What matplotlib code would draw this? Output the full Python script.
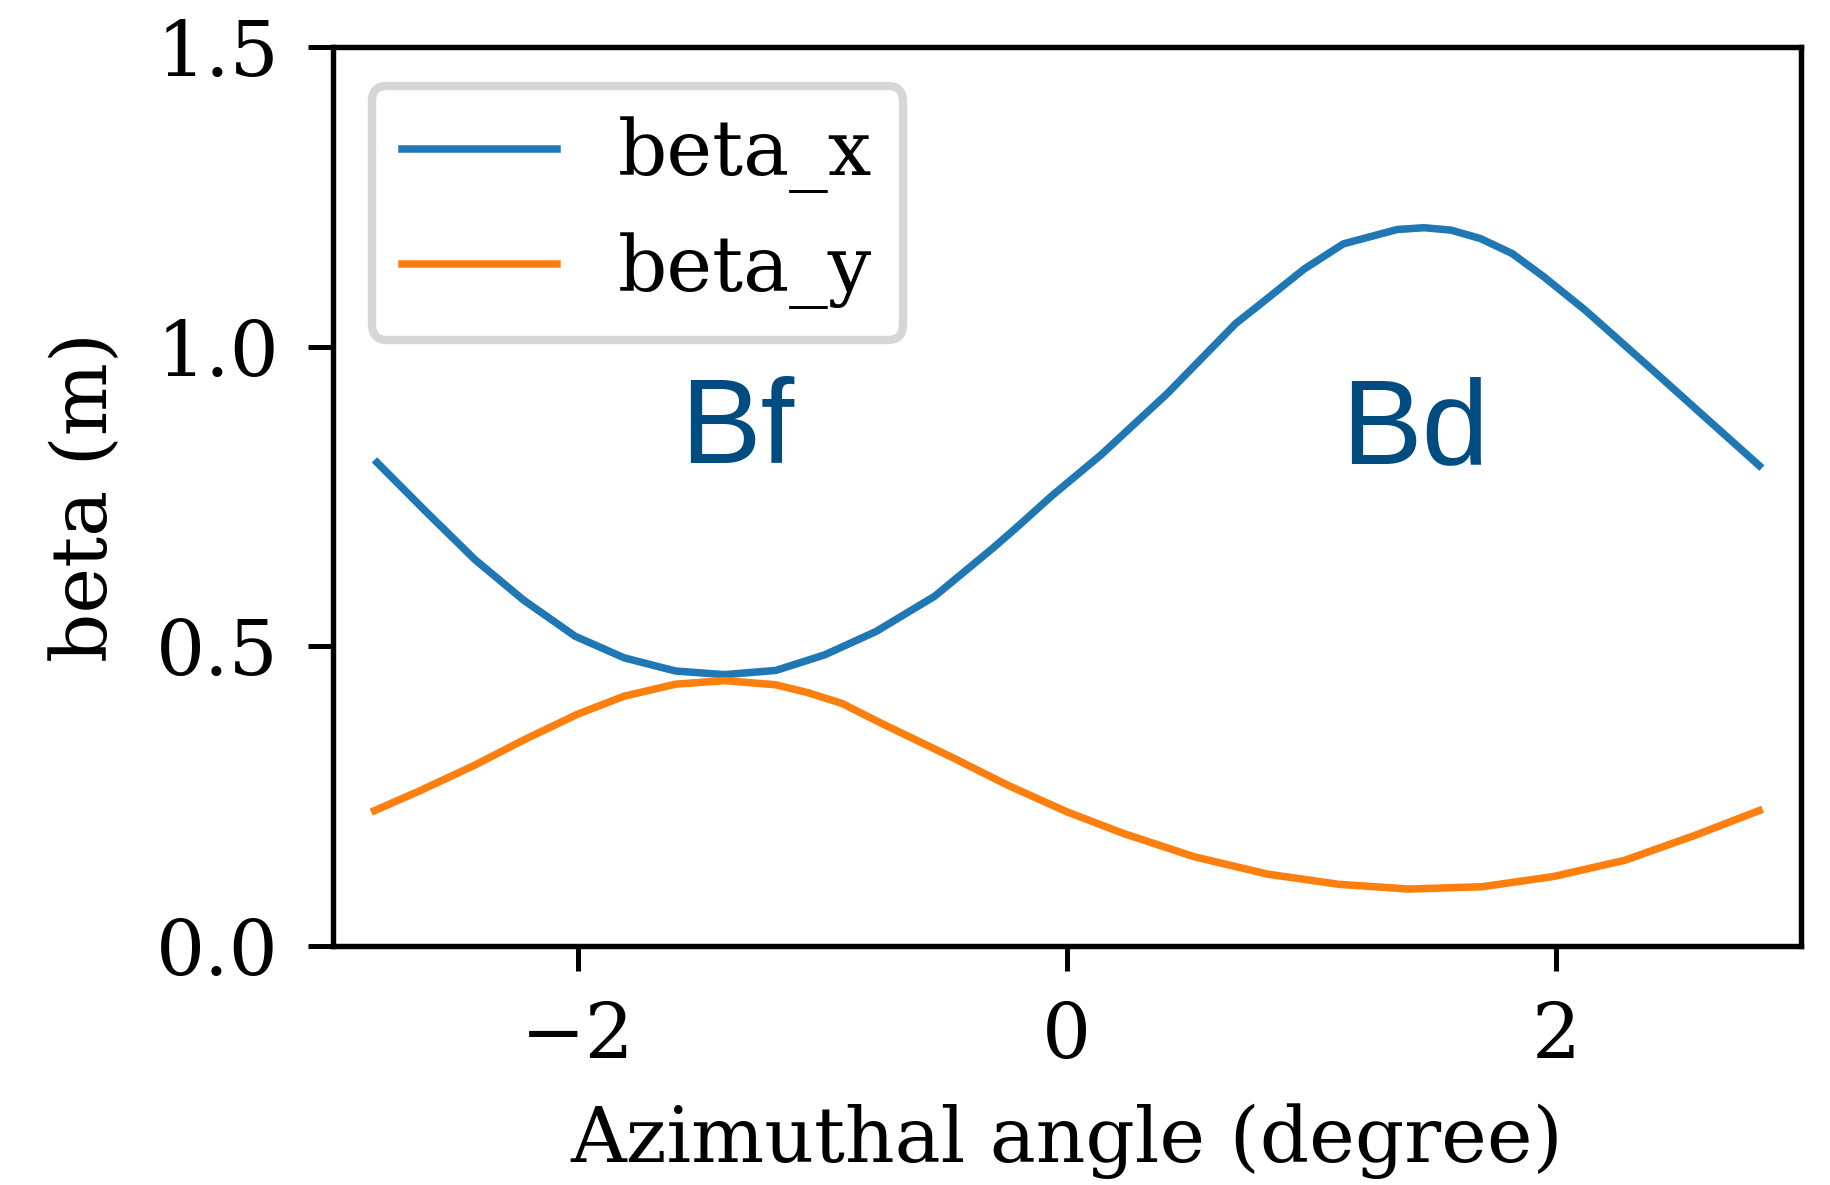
import matplotlib
matplotlib.use("Agg")
import matplotlib.pyplot as plt

# Horizontal beta function: azimuthal position (degree) and beta (m)
angle_x = [-2.82, -2.62, -2.42, -2.22, -2.01, -1.81, -1.60, -1.40, -1.19, -0.99,
           -0.78, -0.54, -0.30, -0.21, -0.06, 0.14, 0.41, 0.69, 0.78, 0.97,
           1.13, 1.35, 1.46, 1.57, 1.69, 1.82, 1.95, 2.12, 2.39, 2.60, 2.83]
beta_x = [0.807, 0.725, 0.645, 0.577, 0.517, 0.481, 0.459, 0.453, 0.460, 0.486,
          0.525, 0.584, 0.665, 0.697, 0.752, 0.820, 0.922, 1.039, 1.068, 1.130,
          1.172, 1.196, 1.199, 1.195, 1.181, 1.156, 1.117, 1.061, 0.963, 0.886,
          0.802]

# Vertical beta function: azimuthal position (degree) and beta (m)
angle_y = [-2.83, -2.64, -2.42, -2.22, -2.00, -1.81, -1.60, -1.40, -1.19, -1.06,
           -0.92, -0.75, -0.47, -0.24, 0.00, 0.23, 0.52, 0.82, 1.11, 1.40, 1.70,
           1.99, 2.28, 2.57, 2.83]
beta_y = [0.226, 0.260, 0.302, 0.344, 0.387, 0.417, 0.437, 0.443, 0.436, 0.423,
          0.405, 0.370, 0.315, 0.268, 0.224, 0.188, 0.149, 0.120, 0.103, 0.095,
          0.099, 0.116, 0.143, 0.185, 0.226]

# Magnet labels
magnet_labels = ["Bf", "Bd"]
magnet_pos = [-1.58, 1.12]
magnet_y = 0.806

plt.rcParams["font.family"] = ["DejaVu Serif"]

fig = plt.figure(figsize=(6.1, 3.95), dpi=300)
ax = fig.add_axes([0.182, 0.2017, 0.802, 0.7583])

ax.plot(angle_x, beta_x, color="#1f77b4", lw=1.8, label="beta_x")
ax.plot(angle_y, beta_y, color="#ff7f0e", lw=1.8, label="beta_y")

for name, xp in zip(magnet_labels, magnet_pos):
    ax.text(xp, magnet_y, name, family=["Liberation Sans"], fontsize=29,
            color="#004c80", ha="left", va="baseline")

ax.set_xlim(-3, 3)
ax.set_ylim(0, 1.5)
ax.set_xticks([-2, 0, 2])
ax.set_yticks([0.0, 0.5, 1.0, 1.5])
ax.tick_params(labelsize=18.5, length=6, width=1.2, pad=7)
for s in ax.spines.values():
    s.set_linewidth(1.3)

ax.set_xlabel("Azimuthal angle (degree)", fontsize=18.5, labelpad=7)
ax.set_ylabel("beta (m)", fontsize=18.5, labelpad=8)

leg = ax.legend(loc="upper left", fontsize=18.5, framealpha=0.8)
leg.get_frame().set_linewidth(2.0)

fig.savefig("out.png", dpi=300)
